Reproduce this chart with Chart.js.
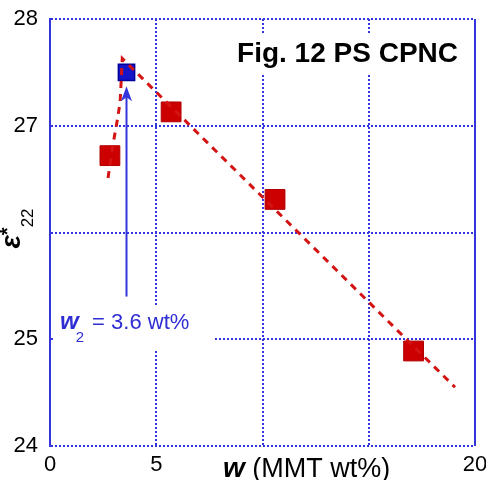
<!DOCTYPE html>
<html>
<head>
<meta charset="utf-8">
<script src="https://cdn.jsdelivr.net/npm/chart.js@4/dist/chart.umd.min.js"></script>
<style>
  html, body { margin: 0; padding: 0; background: #fff; overflow: hidden; }
  /* slightly wider than the window so the "20" label is clipped like the original */
  #wrap { width: 490px; height: 480px; }
</style>
</head>
<body>
<div id="wrap"><canvas id="chart"></canvas></div>
<script>
// ---------------- Data ----------------
const filledX = [2.82, 5.70, 10.59, 17.11];
const filledY = [26.72, 27.13, 26.31, 24.89];

const criticalX = [3.6];
const criticalY = [27.50];

// dashed guide curve
const trendX = [2.73, 2.96, 3.14, 3.30, 3.40, 19.06];
const trendY = [26.51, 26.82, 27.02, 27.22, 27.63, 24.55];

// arrow pointing at w2
const arrowX = [3.6, 3.6];
const arrowY = [25.40, 27.30];
const arrowTip = 27.37;

const xTickShown = [0, 5, 20];
const yTickShown = [24, 25, 27, 28];

const BLUE = "#3434dc";
const TEXT_BLUE = "#2e2ed2";
const RED = "#cc0000";
const FONT = "'Liberation Sans', Arial, Helvetica, sans-serif";

const toPoints = (xs, ys) => xs.map((x, i) => ({ x, y: ys[i] }));

// ---------------- Labels plugin ----------------
const labelsPlugin = {
    id: "labels",
    beforeDatasetsDraw(chart) {
        const { ctx, chartArea: a } = chart;
        ctx.save();
        // solid right frame edge
        ctx.strokeStyle = BLUE;
        ctx.lineWidth = 2;
        ctx.beginPath();
        ctx.moveTo(a.right, a.top);
        ctx.lineTo(a.right, a.bottom);
        ctx.stroke();

        ctx.fillStyle = "#fff";
        // box behind the figure title
        ctx.fillRect(a.right - 240, a.top + 14, 237, 40);
        // box behind the w2 label
        ctx.fillRect(a.left + 3, a.top + 288, 160, 42);
        ctx.restore();
    },
    afterDatasetsDraw(chart) {
        const { ctx, chartArea: a, scales } = chart;
        ctx.save();

        // arrow head
        const meta = chart.getDatasetMeta(3);
        const px = meta.data[1].x;
        const ty = scales.y.getPixelForValue(arrowTip);
        ctx.fillStyle = BLUE;
        ctx.beginPath();
        ctx.moveTo(px, ty);
        ctx.lineTo(px - 5.5, ty + 15);
        ctx.lineTo(px, ty + 11);
        ctx.lineTo(px + 5.5, ty + 15);
        ctx.closePath();
        ctx.fill();

        // figure title
        ctx.fillStyle = "#000";
        ctx.textBaseline = "alphabetic";
        ctx.textAlign = "right";
        ctx.font = "bold 28px " + FONT;
        ctx.fillText("Fig. 12 PS CPNC", a.right - 17, a.top + 43);

        // w2 = 3.6 wt%
        ctx.textAlign = "left";
        ctx.fillStyle = TEXT_BLUE;
        let x = a.left + 10;
        const base = a.top + 310;
        ctx.font = "italic bold 24px " + FONT;
        ctx.fillText("w", x, base);
        x += ctx.measureText("w").width - 3;
        ctx.font = "15px " + FONT;
        ctx.fillText("2", x, base + 13);
        x += ctx.measureText("2").width + 2;
        ctx.font = "22px " + FONT;
        ctx.fillText(" = 3.6 wt%", x, base);

        // x axis title, sits on the tick label row
        ctx.fillStyle = "#000";
        const xb = chart.height - 3;
        let sx = a.left + 173;
        ctx.font = "italic bold 28px " + FONT;
        ctx.fillText("w", sx, xb);
        sx += ctx.measureText("w").width;
        ctx.font = "27px " + FONT;
        ctx.fillText(" (MMT wt%)", sx, xb);

        // y axis title: eps*_22, rotated
        ctx.translate(0, (a.top + a.bottom) / 2);
        ctx.rotate(-Math.PI / 2);
        ctx.font = "italic bold 28px " + FONT;
        const eW = ctx.measureText("ε").width;
        ctx.font = "bold 20px " + FONT;
        const sW = ctx.measureText("*").width;
        ctx.font = "17px " + FONT;
        const dW = ctx.measureText("22").width;
        let u = -(eW + sW + dW) / 2 + 4;
        ctx.font = "italic bold 28px " + FONT;
        ctx.fillText("ε", u, 20);
        u += eW;
        ctx.font = "bold 20px " + FONT;
        ctx.fillText("*", u, 14);
        u += sW;
        ctx.font = "17px " + FONT;
        ctx.fillText("22", u, 33);

        ctx.restore();
    }
};

// ---------------- Chart ----------------
const tickFont = { family: FONT, size: 22 };

new Chart(document.getElementById("chart"), {
    type: "scatter",
    data: {
        datasets: [
            {
                label: "trend",
                data: toPoints(trendX, trendY),
                showLine: true,
                borderColor: "#d41414",
                borderWidth: 3,
                borderDash: [7, 6],
                pointRadius: 0,
                tension: 0,
                order: 0
            },
            {
                label: "CPNC",
                data: toPoints(filledX, filledY),
                pointStyle: "rect",
                pointRadius: 14,
                backgroundColor: RED,
                borderColor: "#b00000",
                borderWidth: 1,
                order: 2
            },
            {
                label: "w2",
                data: toPoints(criticalX, criticalY),
                pointStyle: "rect",
                pointRadius: 11.5,
                backgroundColor: "#1414c8",
                borderColor: "#00009a",
                borderWidth: 1.5,
                order: 1
            },
            {
                label: "arrow",
                data: toPoints(arrowX, arrowY),
                showLine: true,
                borderColor: BLUE,
                borderWidth: 2,
                pointRadius: 0,
                order: 3
            }
        ]
    },
    options: {
        responsive: true,
        maintainAspectRatio: false,
        animation: false,
        layout: { padding: { top: 19, right: 11, bottom: 0, left: 0 } },
        plugins: { legend: { display: false }, tooltip: { enabled: false } },
        scales: {
            x: {
                type: "linear",
                min: 0, max: 20,
                ticks: {
                    stepSize: 5,
                    font: tickFont,
                    color: "#000",
                    padding: 6,
                    maxRotation: 0,
                    callback: v => xTickShown.includes(v) ? String(v) : ""
                },
                grid: { color: BLUE, lineWidth: 2, drawTicks: false },
                border: { display: false, dash: [2, 2] },
                afterFit: s => { s.height = 34; s.paddingLeft = 0; s.paddingRight = 0; }
            },
            y: {
                type: "linear",
                min: 24, max: 28,
                ticks: {
                    stepSize: 1,
                    font: tickFont,
                    color: "#000",
                    padding: 12,
                    callback: v => yTickShown.includes(v) ? String(v) : ""
                },
                grid: { color: BLUE, lineWidth: 2, drawTicks: false },
                border: { display: true, color: BLUE, width: 2, dash: [2, 2] },
                afterFit: s => { s.width = 50; s.paddingTop = 0; s.paddingBottom = 0; }
            }
        }
    },
    plugins: [labelsPlugin]
});
</script>
</body>
</html>
